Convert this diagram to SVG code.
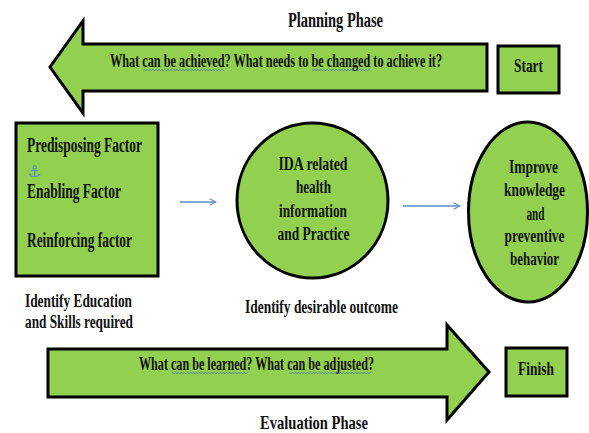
<svg xmlns="http://www.w3.org/2000/svg" width="589" height="433" viewBox="0 0 589 433">
<style>
.shape{fill:#92D050;stroke:#000;stroke-width:3;stroke-linejoin:miter}
.t{font-family:"Liberation Serif","Times New Roman",serif;font-weight:bold;fill:#111}
.s18{font-size:18px}
.s19{font-size:19px}
.s20{font-size:20px}
.conn{stroke:#5B8BC9;stroke-width:1.3;fill:none}
.sq{fill:url(#squiggle)}
</style>
<defs>
<marker id="open" viewBox="0 0 10 10" refX="9" refY="5" markerWidth="8" markerHeight="8" markerUnits="userSpaceOnUse" orient="auto">
<path d="M1,1 L9,5 L1,9" fill="none" stroke="#5B8BC9" stroke-width="1.3"/>
</marker>
<pattern id="squiggle" width="3" height="2" patternUnits="userSpaceOnUse">
<path d="M0,1.6 L1.5,0.4 L3,1.6" fill="none" stroke="#3A5BD0" stroke-width="0.7"/>
</pattern>
</defs>
<rect width="589" height="433" fill="#fff"/>

<g id="planning-phase">
<text class="t s20" x="288" y="27" textLength="95" lengthAdjust="spacingAndGlyphs">Planning Phase</text>
<polygon class="shape" points="50,67 83,21 83,44 487,44 487,91 83,91 83,113"/>
<text class="t s18" x="110" y="67" textLength="332" lengthAdjust="spacingAndGlyphs">What can be achieved? What needs to be changed to achieve it?</text>
<rect class="sq" x="143" y="69" width="81" height="2"/>
<rect class="sq" x="312" y="69" width="58" height="2"/>
</g>

<g id="start">
<rect class="shape" x="498" y="46" width="61" height="47"/>
<text class="t s19" x="514" y="72" textLength="29" lengthAdjust="spacingAndGlyphs">Start</text>
</g>

<g id="factors">
<rect class="shape" x="16" y="123" width="142" height="153"/>
<text class="t s20" x="27" y="152" textLength="115" lengthAdjust="spacingAndGlyphs">Predisposing Factor</text>
<text x="27" y="177" font-family="DejaVu Sans" font-size="16" fill="#5B8BC9">⚓</text>
<text class="t s20" x="27" y="198" textLength="94" lengthAdjust="spacingAndGlyphs">Enabling Factor</text>
<text class="t s20" x="27" y="247" textLength="105" lengthAdjust="spacingAndGlyphs">Reinforcing factor</text>
<text class="t s18" x="25" y="307" textLength="107" lengthAdjust="spacingAndGlyphs">Identify Education</text>
<text class="t s18" x="25" y="328" textLength="108" lengthAdjust="spacingAndGlyphs">and Skills required</text>
</g>

<g id="ida-info">
<ellipse class="shape" cx="312.5" cy="200.5" rx="75.5" ry="77.5"/>
<text class="t s18" x="278.5" y="170" textLength="69" lengthAdjust="spacingAndGlyphs">IDA related</text>
<text class="t s18" x="296" y="193" textLength="35" lengthAdjust="spacingAndGlyphs">health</text>
<text class="t s18" x="279" y="217" textLength="68" lengthAdjust="spacingAndGlyphs">information</text>
<text class="t s18" x="277.5" y="240" textLength="72" lengthAdjust="spacingAndGlyphs">and Practice</text>
<text class="t s18" x="245" y="313" textLength="153" lengthAdjust="spacingAndGlyphs">Identify desirable outcome</text>
</g>

<g id="improve">
<ellipse class="shape" cx="528" cy="212" rx="59.5" ry="90"/>
<text class="t s18" x="509" y="173" textLength="49" lengthAdjust="spacingAndGlyphs">Improve</text>
<text class="t s18" x="504" y="196" textLength="61" lengthAdjust="spacingAndGlyphs">knowledge</text>
<text class="t s18" x="526.5" y="220" textLength="18" lengthAdjust="spacingAndGlyphs">and</text>
<text class="t s18" x="504.5" y="242" textLength="60" lengthAdjust="spacingAndGlyphs">preventive</text>
<text class="t s18" x="510" y="265" textLength="49" lengthAdjust="spacingAndGlyphs">behavior</text>
</g>

<g id="evaluation-phase">
<polygon class="shape" points="48,349 447,349 447,325 489,372 447,420 447,397 48,397"/>
<text class="t s18" x="139" y="370" textLength="235" lengthAdjust="spacingAndGlyphs">What can be learned? What can be adjusted?</text>
<rect class="sq" x="172" y="372" width="76" height="2"/>
<rect class="sq" x="289" y="372" width="82" height="2"/>
<text class="t s19" x="260" y="429" textLength="108" lengthAdjust="spacingAndGlyphs">Evaluation Phase</text>
</g>

<g id="finish">
<rect class="shape" x="506" y="348" width="61" height="48"/>
<text class="t s19" x="518" y="375" textLength="36" lengthAdjust="spacingAndGlyphs">Finish</text>
</g>

<g id="connectors">
<line class="conn" x1="180" y1="202" x2="216" y2="202" marker-end="url(#open)"/>
<line class="conn" x1="403" y1="206" x2="460" y2="206" marker-end="url(#open)"/>
</g>
</svg>
